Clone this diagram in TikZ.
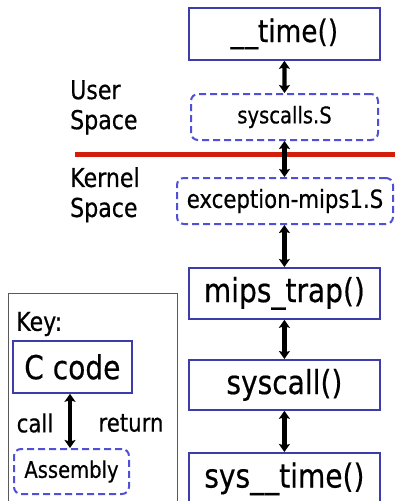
\documentclass[tikz,border=0pt]{standalone}
\usepackage{fontspec}
\setmainfont[FakeStretch=0.85,FakeBold=0.5]{DejaVu Sans}
\usetikzlibrary{arrows.meta}
\definecolor{cbox}{RGB}{60,60,170}
\definecolor{abox}{RGB}{80,80,215}
\definecolor{divider}{RGB}{210,30,10}
\tikzset{
  ccode/.style={draw=cbox, line width=1.8pt, fill=white, inner sep=0pt, anchor=north west},
  asm/.style={draw=abox, line width=2pt, dash pattern=on 7pt off 4pt, rounded corners=7pt, inner sep=0pt, anchor=north west},
  link/.style={line width=4.2pt, {Stealth[length=8pt,width=11pt,inset=1.5pt]}-{Stealth[length=8pt,width=11pt,inset=1.5pt]}},
  lbl/.style={inner sep=0pt, align=left, font=\fontsize{26}{30}\selectfont},
}
\newcommand{\fsz}[1]{\fontsize{#1}{#1}\selectfont}
\begin{document}
\begin{tikzpicture}[x=1pt,y=-1pt]
\useasboundingbox (0,0) rectangle (395,501);
\clip (0,0) rectangle (395,501);
% user/kernel boundary
\draw[divider, line width=5pt] (75,154) -- (395,154);
\node[lbl, anchor=north west] (user) at (70,80) {User\\Space};
\node[lbl, anchor=north west] (kernel) at (70,167) {Kernel\\Space};
% call chain
\node[ccode, minimum width=191pt, minimum height=52pt, font=\fsz{31}] (time) at (188,7) {\_\kern1pt\_time()};
\node[asm, minimum width=187pt, minimum height=46pt, font=\fsz{23}] (sysS) at (190,93) {syscalls.S};
\node[asm, minimum width=216pt, minimum height=46pt, font=\fsz{25}] (exc) at (176,177) {exception-mips1.S};
\node[ccode, minimum width=191pt, minimum height=51pt, font=\fsz{33}] (trap) at (188,267) {mips\_trap()};
\node[ccode, minimum width=191pt, minimum height=50pt, font=\fsz{33}] (sysc) at (188,359) {syscall()};
\node[ccode, minimum width=191pt, minimum height=52pt, font=\fsz{33}] (systime) at (188,452) {sys\_\kern1pt\_time()};
\draw[link] (time.south) -- (sysS.north);
\draw[link] (sysS.south) -- (sysS.south |- exc.north);
\draw[link] (exc.south -| trap.north) -- (trap.north);
\draw[link] (trap.south) -- (sysc.north);
\draw[link] (sysc.south) -- (systime.north);
% key
\draw[draw=black!65, line width=1pt] (8,293) rectangle (177,510);
\node[lbl, anchor=west, font=\fsz{26}] (key) at (16,324) {Key:};
\node[ccode, minimum width=119pt, minimum height=52pt, font=\fsz{33}] (kc) at (12,340) {C code};
\node[asm, minimum width=115pt, minimum height=45pt, font=\fsz{23}] (ka) at (13,448) {Assembly};
\draw[link] (kc.south -| 70,0) -- (ka.north -| 70,0);
\node[lbl, font=\fsz{25}] (call) at (35,423) {call};
\node[lbl, font=\fsz{25}] (ret) at (131,423) {return};
\end{tikzpicture}
\end{document}
